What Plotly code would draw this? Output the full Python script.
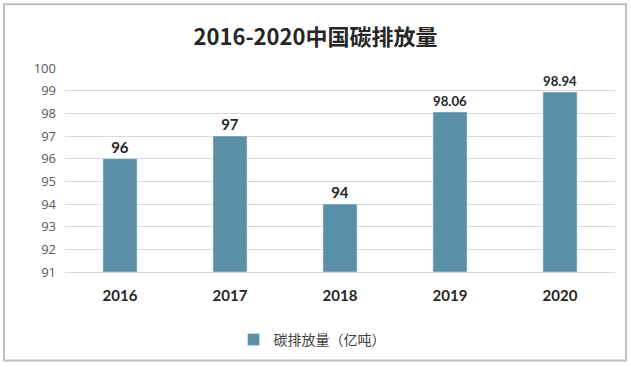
import plotly.graph_objects as go

years = ["2016", "2017", "2018", "2019", "2020"]
emissions = [96, 97, 94, 98.06, 98.94]
labels = ["96", "97", "94", "98.06", "98.94"]
series_name = "碳排放量（亿吨）"
title = "2016-2020中国碳排放量"
y_base = 91

W, H = 631, 367
L, R, T, B = 65, 16, 68, 94  # plot area 65..615, 68..273

fig = go.Figure()
fig.add_trace(go.Bar(
    x=years, y=[v - y_base for v in emissions], base=y_base,
    name=series_name,
    marker=dict(color="#5B8FA7"),
    text=labels, textposition="outside",
    textfont=dict(family="Lato, 'Noto Sans CJK SC', sans-serif", size=15, color="#262626", weight="bold"),
    cliponaxis=False,
))

pw = W - L - R
ph = H - T - B
def px(x):
    return (x - L) / pw
def py(y):
    return 1 - (y - T) / ph

fig.update_layout(
    width=W, height=H,
    margin=dict(l=L, r=R, t=T, b=B),
    paper_bgcolor="white", plot_bgcolor="white",
    bargap=0.69,
    title=dict(text="<b>" + title + "</b>", x=0.5, xanchor="center", y=1 - 37 / H, yanchor="middle",
               font=dict(family="'Noto Sans CJK SC', sans-serif", size=22, color="#262626")),
    xaxis=dict(showgrid=False, showline=True, linecolor="#D9D9D9", linewidth=1, ticks="",
               ticklabelstandoff=10,
               tickfont=dict(family="Lato, sans-serif", size=15, color="#262626", weight="bold")),
    yaxis=dict(range=[91, 100], dtick=1, showgrid=True, gridcolor="#D9D9D9", gridwidth=1,
               zeroline=False, showline=False, ticks="", ticklabelstandoff=8,
               tickfont=dict(family="'Open Sans', sans-serif", size=13, color="#595959")),
    showlegend=True,
    legend=dict(orientation="h", x=px(312), xanchor="center", y=py(340), yanchor="middle",
                itemwidth=30, font=dict(family="'Noto Sans CJK SC', sans-serif", size=14, color="#404040")),
    shapes=[dict(type="rect", xref="paper", yref="paper",
                 x0=px(4), x1=px(626), y0=py(362), y1=py(4),
                 line=dict(color="#BFBFBF", width=2), fillcolor="rgba(0,0,0,0)", layer="below")],
)
fig.write_html("out.html", config={"displayModeBar": False},
               post_script="document.body.style.margin='0';document.body.style.overflow='hidden';")
